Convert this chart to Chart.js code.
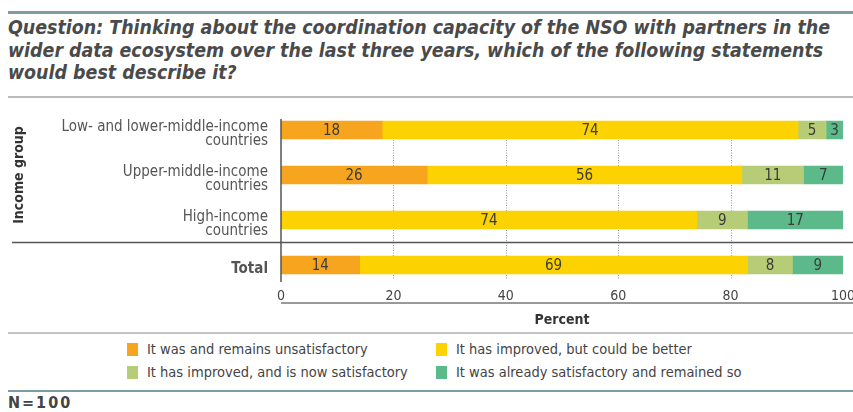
<!DOCTYPE html>
<html>
<head>
<meta charset="utf-8">
<script src="https://cdn.jsdelivr.net/npm/chart.js@4.4.1/dist/chart.umd.min.js"></script>
<style>
  html, body { margin: 0; padding: 0; background: #fff; }
  body { width: 853px; height: 412px; position: relative; overflow: hidden;
         font-family: "DejaVu Sans Condensed", "Liberation Sans Narrow", Roboto, sans-serif; color: #444; }
  .rule { position: absolute; height: 0; }
  #title { position: absolute; left: 8px; top: 17px; font-size: 19.4px; line-height: 22.5px;
           font-style: italic; font-weight: 600; color: #4a4a4a; white-space: nowrap; }
  #title b { font-weight: 800; }
  #legend { position: absolute; left: 127px; top: 341px; font-size: 14.5px; color: #444; }
  .item { position: absolute; white-space: nowrap; line-height: 17px; }
  .sw { display: inline-block; width: 11px; height: 13px; vertical-align: -2px; margin-right: 9px; }
  #note { position: absolute; left: 8px; top: 394px; font-size: 16px; line-height: 17px; font-weight: bold;
          letter-spacing: 2px; color: #444; }
  #wrap { position: absolute; left: 0; top: 0; width: 853px; height: 412px; }
</style>
</head>
<body>
<div class="rule" style="left:8px;right:0;top:11px;border-top:3px solid #7d9ca7;"></div>
<div id="title">
  <div><b>Question:</b> Thinking about the coordination capacity of the NSO with partners in the</div>
  <div>wider data ecosystem over the last three years, which of the following statements</div>
  <div>would best describe it?</div>
</div>
<div class="rule" style="left:8px;right:0;top:96px;border-top:2px solid #bbb;"></div>
<div class="rule" style="left:8px;right:0;top:332px;border-top:2px solid #c4c4c4;"></div>
<div class="rule" style="left:8px;right:0;top:390px;border-top:2px solid #7d9ca7;"></div>
<div id="legend"></div>
<div id="note">N=100</div>
<div id="wrap"><canvas id="grafico" width="853" height="412"></canvas></div>

<script>
// Dados por grupo de renda (percentual)
const grupos = [
  ['Low- and lower-middle-income', 'countries'],
  ['Upper-middle-income', 'countries'],
  ['High-income', 'countries'],
  'Total'
];
const remainsUnsatisfactory = [18, 26, 0, 14];
const improvedCouldBeBetter = [74, 56, 74, 69];
const improvedNowSatisfactory = [5, 11, 9, 8];
const alreadySatisfactory = [3, 7, 17, 9];
const xTicks = [0, 20, 40, 60, 80, 100];

const series = [
  { label: 'It was and remains unsatisfactory', data: remainsUnsatisfactory, color: '#f7a51e' },
  { label: 'It has improved, but could be better', data: improvedCouldBeBetter, color: '#fcd200' },
  { label: 'It has improved, and is now satisfactory', data: improvedNowSatisfactory, color: '#b6cc76' },
  { label: 'It was already satisfactory and remained so', data: alreadySatisfactory, color: '#5cb98a' }
];

const FONT = '"DejaVu Sans Condensed", "Liberation Sans Narrow", Roboto, sans-serif';

// Legenda em duas colunas
const legenda = document.getElementById('legend');
series.forEach((s, i) => {
  const el = document.createElement('div');
  el.className = 'item';
  el.style.left = (i % 2 ? 309 : 0) + 'px';
  el.style.top = (i < 2 ? 0 : 23) + 'px';
  el.innerHTML = `<span class="sw" style="background:${s.color}"></span>${s.label}`;
  legenda.appendChild(el);
});

// Linhas, grade e rótulos desenhados à mão
const decor = {
  id: 'decor',
  beforeDatasetsDraw(chart) {
    const { ctx, scales: { x, y } } = chart;
    ctx.save();
    ctx.strokeStyle = '#9a9a9a';
    ctx.lineWidth = 1;
    ctx.setLineDash([1, 1.5]);
    [20, 40, 60, 80].forEach(v => {
      const px = Math.round(x.getPixelForValue(v)) + 0.5;
      ctx.beginPath();
      ctx.moveTo(px, y.getPixelForValue(0));
      ctx.lineTo(px, y.getPixelForValue(3) + 15);
      ctx.stroke();
    });
    ctx.restore();
  },
  afterDatasetsDraw(chart) {
    const { ctx, scales: { x, y }, chartArea } = chart;
    ctx.save();
    // eixo vertical
    ctx.strokeStyle = '#555';
    ctx.lineWidth = 1.5;
    ctx.beginPath();
    ctx.moveTo(chartArea.left, y.getPixelForValue(0) - 11);
    ctx.lineTo(chartArea.left, y.getPixelForValue(3) + 17);
    ctx.stroke();
    // separador antes do total
    const sep = (y.getPixelForValue(2) + y.getPixelForValue(3)) / 2;
    ctx.beginPath();
    ctx.moveTo(12, sep);
    ctx.lineTo(chart.width, sep);
    ctx.stroke();
    // linha abaixo dos ticks
    ctx.strokeStyle = '#999';
    ctx.lineWidth = 2;
    ctx.beginPath();
    ctx.moveTo(chartArea.left, 303);
    ctx.lineTo(chart.width, 303);
    ctx.stroke();

    // valores dentro das barras
    ctx.fillStyle = '#3b3b3b';
    ctx.font = '15px ' + FONT;
    ctx.textAlign = 'center';
    ctx.textBaseline = 'middle';
    chart.data.datasets.forEach((ds, di) => {
      chart.getDatasetMeta(di).data.forEach((bar, i) => {
        const v = ds.data[i];
        if (!v) return;
        const cx = (bar.x + bar.base) / 2;
        ctx.fillText(String(v), cx, bar.y + 1);
      });
    });

    // título do eixo vertical
    ctx.translate(19, y.getPixelForValue(1));
    ctx.rotate(-Math.PI / 2);
    ctx.fillStyle = '#333';
    ctx.font = 'bold 14px ' + FONT;
    ctx.fillText('Income group', 0, 0);
    ctx.restore();
  }
};

const grafico = new Chart(document.getElementById('grafico'), {
  type: 'bar',
  data: {
    labels: grupos,
    datasets: series.map(s => ({
      label: s.label,
      data: s.data,
      backgroundColor: s.color,
      borderWidth: 0,
      barThickness: 18
    }))
  },
  options: {
    indexAxis: 'y',
    responsive: false,
    animation: false,
    devicePixelRatio: 1,
    layout: { padding: { top: 107.5, right: 10, bottom: 81.5, left: 0 } },
    plugins: { legend: { display: false }, tooltip: { enabled: false } },
    scales: {
      x: {
        stacked: true,
        min: 0,
        max: 100,
        afterBuildTicks: s => { s.ticks = xTicks.map(v => ({ value: v })); },
        afterFit: s => { s.height = 43; s.paddingLeft = 0; s.paddingRight = 0; },
        grid: { display: false, drawTicks: false },
        border: { display: false },
        ticks: { padding: 0, color: '#444', font: { family: FONT, size: 14 } },
        title: {
          display: true, text: 'Percent', color: '#333',
          font: { family: FONT, size: 14, weight: 'bold' },
          padding: { top: 0, bottom: 2 }
        }
      },
      y: {
        stacked: true,
        afterFit: s => { s.width = 281; s.paddingTop = 0; s.paddingBottom = 0; },
        grid: { display: false, drawTicks: false },
        border: { display: false },
        ticks: {
          padding: 13,
          labelOffset: 4,
          color: '#555',
          font: c => c.index === 3
            ? { family: FONT, size: 15, weight: 'bold', lineHeight: 0.9 }
            : { family: FONT, size: 15, lineHeight: 0.9 }
        }
      }
    }
  },
  plugins: [decor]
});
</script>
</body>
</html>
